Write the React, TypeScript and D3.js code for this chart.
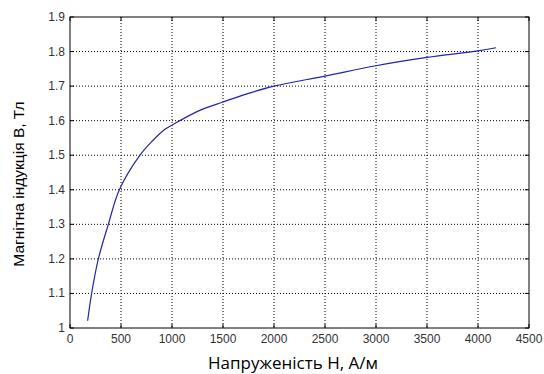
import React from "react";
import * as d3 from "d3";

const H_VALUES = [173, 212, 278, 376, 484, 686, 800, 931, 1000, 1250, 1500, 1750, 2000, 2500, 3000, 3500, 4000, 4176];
const B_VALUES = [1.021, 1.1, 1.2, 1.3, 1.4, 1.5, 1.539, 1.575, 1.587, 1.627, 1.654, 1.679, 1.7, 1.729, 1.759, 1.783, 1.802, 1.811];
const X_TICKS = [0, 500, 1000, 1500, 2000, 2500, 3000, 3500, 4000, 4500];
const Y_TICKS = [1, 1.1, 1.2, 1.3, 1.4, 1.5, 1.6, 1.7, 1.8, 1.9];
const X_LABEL = "Напруженість Н, А/м";
const Y_LABEL = "Магнітна індукція В, Тл";

export default function App() {
  const W = 544, H = 374;
  const left = 70, right = 529, top = 17, bottom = 328;
  const x = d3.scaleLinear().domain([0, 4500]).range([left, right]);
  const y = d3.scaleLinear().domain([1, 1.9]).range([bottom, top]);
  const pts: [number, number][] = H_VALUES.map((h, i) => [h, B_VALUES[i]]);
  const line = d3
    .line<[number, number]>()
    .x((d) => x(d[0]))
    .y((d) => y(d[1]))
    .curve(d3.curveCatmullRom.alpha(0.5));
  const tl = 4;
  const tickFont = "Liberation Sans, Arial, sans-serif";
  return (
    <svg width={W} height={H} style={{ position: "absolute", left: 0, top: 0, background: "#fff" }}>
      <rect x={0} y={0} width={W} height={H} fill="#fff" />
      {X_TICKS.slice(1, -1).map((t) => (
        <line key={"gx" + t} x1={x(t)} x2={x(t)} y1={top} y2={bottom} stroke="#000" strokeWidth={1} strokeDasharray="1,2" />
      ))}
      {Y_TICKS.slice(1, -1).map((t) => (
        <line key={"gy" + t} x1={left} x2={right} y1={y(t)} y2={y(t)} stroke="#000" strokeWidth={1} strokeDasharray="1,2" />
      ))}
      {X_TICKS.map((t) => (
        <g key={"tx" + t}>
          <line x1={x(t)} x2={x(t)} y1={bottom} y2={bottom - tl} stroke="#000" />
          <line x1={x(t)} x2={x(t)} y1={top} y2={top + tl} stroke="#000" />
          <text x={x(t)} y={343} textAnchor="middle" fontFamily={tickFont} fontSize={12} fill="#333">
            {t}
          </text>
        </g>
      ))}
      {Y_TICKS.map((t) => (
        <g key={"ty" + t}>
          <line x1={left} x2={left + tl} y1={y(t)} y2={y(t)} stroke="#000" />
          <line x1={right} x2={right - tl} y1={y(t)} y2={y(t)} stroke="#000" />
          <text x={left - 5} y={y(t) + 4} textAnchor="end" fontFamily={tickFont} fontSize={12} fill="#333">
            {d3.format("")(t)}
          </text>
        </g>
      ))}
      <rect x={left} y={top} width={right - left} height={bottom - top} fill="none" stroke="#000" strokeWidth={1} />
      <path d={line(pts) || ""} fill="none" stroke="#2424a8" strokeWidth={1.2} />
      <text x={293} y={369} textAnchor="middle" fontFamily="Open Sans, sans-serif" fontSize={17} fill="#000">
        {X_LABEL}
      </text>
      <text
        transform={`translate(24,184) rotate(-90)`}
        textAnchor="middle"
        fontFamily="Liberation Sans, Arial, sans-serif"
        fontSize={15.5}
        fill="#000"
      >
        {Y_LABEL}
      </text>
    </svg>
  );
}
